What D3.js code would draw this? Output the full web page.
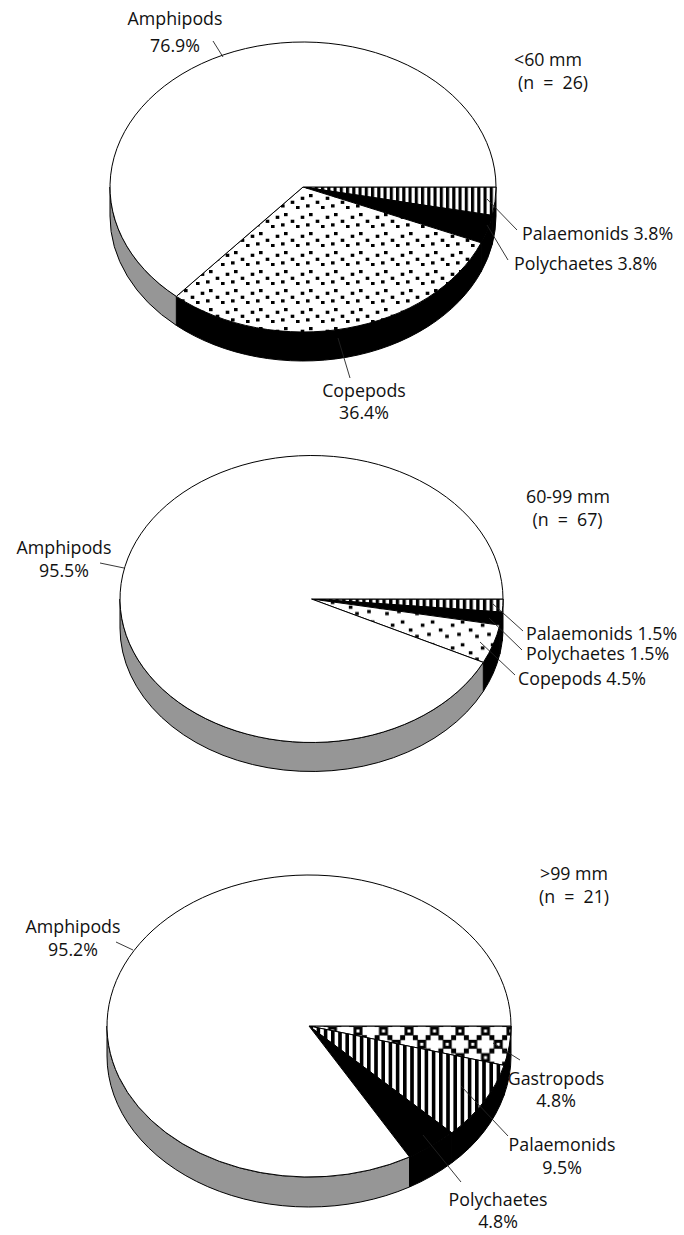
<!DOCTYPE html>
<html><head><meta charset="utf-8">
<script src="https://cdn.jsdelivr.net/npm/d3@7/dist/d3.min.js"></script>
<style>html,body{margin:0;padding:0;background:#fff}svg{display:block}text{font-family:"Open Sans",sans-serif;font-size:17.8px;fill:#111}</style>
</head><body><div id="c"></div>
<script>
// Data: labelled percentages (drawn slices are normalised from them, as in the source)
const categories1 = ["Palaemonids", "Polychaetes", "Copepods", "Amphipods"];
const values1 = [3.8, 3.8, 36.4, 76.9];
const categories2 = ["Palaemonids", "Polychaetes", "Copepods", "Amphipods"];
const values2 = [1.5, 1.5, 4.5, 95.5];
const categories3 = ["Gastropods", "Palaemonids", "Polychaetes", "Amphipods"];
const values3 = [4.8, 9.5, 4.8, 95.2];

// Layout
const panelGeometry = [
  {cx:303, cy:187, rx:193, ry:145, depth:29, stripe:6.25, dot:1},
  {cx:311.5, cy:599, rx:191.5, ry:143.5, depth:29, stripe:6.7, dot:1.2},
  {cx:309, cy:1026, rx:202, ry:151, depth:30, stripe:7.2, dot:1}
];
const panelLabels = [
  [["<60 mm",548,66,"middle"],["(n = 26)",553,89,"middle"],
   ["Amphipods",175,25,"middle"],["76.9%",175,52,"middle"],
   ["Palaemonids 3.8%",522,240,"start"],["Polychaetes 3.8%",514,270,"start"],
   ["Copepods",364,397,"middle"],["36.4%",364,419,"middle"]],
  [["60-99 mm",568,503,"middle"],["(n = 67)",567.5,525.5,"middle"],
   ["Amphipods",64,554,"middle"],["95.5%",64,577,"middle"],
   ["Palaemonids 1.5%",526,640,"start"],["Polychaetes 1.5%",526,660,"start"],["Copepods 4.5%",518,684.5,"start"]],
  [[">99 mm",574,880,"middle"],["(n = 21)",574,903,"middle"],
   ["Amphipods",73,933,"middle"],["95.2%",73,956,"middle"],
   ["Gastropods",556,1085,"middle"],["4.8%",556,1107,"middle"],
   ["Palaemonids",562,1151,"middle"],["9.5%",562,1174,"middle"],
   ["Polychaetes",498,1206,"middle"],["4.8%",498,1228,"middle"]]
];
const panelLeaders = [
  [[213,41,223,57],[487,199,517,230],[487,225,508,260],[338,338,350,378]],
  [[100,563,124,568],[493,604,523,631],[489,618,522,650],[480,642,515,675]],
  [[116,942,133,950],[493,1043,520,1060],[461,1086,508,1136],[423,1135,461,1182]]
];

const svg = d3.select("#c").append("svg").attr("width",684).attr("height",1235);
const defs = svg.append("defs");

panelGeometry.forEach((g,i)=>{
  const p = defs.append("pattern").attr("id","stripes"+i).attr("patternUnits","userSpaceOnUse")
    .attr("width",g.stripe).attr("height",10).attr("x",g.cx+g.rx);
  p.append("rect").attr("width",g.stripe).attr("height",10).attr("fill","#fff");
  p.append("rect").attr("width",g.stripe*0.5).attr("height",10).attr("fill","#000");
  const w=25*g.dot,h=19*g.dot;
  const d = defs.append("pattern").attr("id","dots"+i).attr("patternUnits","userSpaceOnUse").attr("width",w).attr("height",h);
  d.append("rect").attr("width",w).attr("height",h).attr("fill","#fff");
  [[9,4],[0.7,6.7],[15.7,10.7],[6,14.3],[21,16]].forEach(q=>d.append("rect")
    .attr("x",q[0]*g.dot).attr("y",q[1]*g.dot).attr("width",3.6).attr("height",3.2).attr("fill","#000"));
});
(function(){
  const w=25.5,h=26.6;
  const c = defs.append("pattern").attr("id","checks").attr("patternUnits","userSpaceOnUse")
    .attr("width",w).attr("height",h).attr("x",434.5).attr("y",1031);
  c.append("rect").attr("width",w).attr("height",h).attr("fill","#fff");
  [[0,0],[w,0],[0,h],[w,h],[w/2,h/2]].forEach(q=>{
    c.append("rect").attr("x",q[0]-4.5).attr("y",q[1]-4.5).attr("width",9).attr("height",9).attr("fill","#000");
    c.append("rect").attr("x",q[0]-1.5).attr("y",q[1]-1.5).attr("width",3).attr("height",3).attr("fill","#fff");
  });
  [[w/4,h/4],[3*w/4,h/4],[w/4,3*h/4],[3*w/4,3*h/4]].forEach(q=>c.append("rect")
    .attr("x",q[0]-2.5).attr("y",q[1]-2.5).attr("width",5).attr("height",5).attr("fill","#000"));
})();

const topFill = (name,i)=> name==="Amphipods" ? "#fff"
  : name==="Polychaetes" ? "#000"
  : name==="Copepods" ? `url(#dots${i})`
  : name==="Palaemonids" ? `url(#stripes${i})` : "url(#checks)";
const sideFill = name => name==="Amphipods" ? "#969696" : "#000";

const pie = d3.pie().sort(null).startAngle(Math.PI/2).endAngle(Math.PI/2+2*Math.PI);
[[categories1,values1],[categories2,values2],[categories3,values3]].forEach(([cats,vals],i)=>{
  const g = panelGeometry[i];
  const G = svg.append("g");
  const arcs = pie(vals).map((a,k)=>({name:cats[k],a0:a.startAngle-Math.PI/2,a1:a.endAngle-Math.PI/2}));
  const px = t=>g.cx+g.rx*Math.cos(t), py = t=>g.cy+g.ry*Math.sin(t);
  G.selectAll("path.side").data(arcs.filter(d=>d.a0<Math.PI)).join("path").attr("class","side")
    .attr("d",d=>{
      const s=d.a0,e=Math.min(d.a1,Math.PI);
      return `M${px(s)},${py(s)}A${g.rx},${g.ry} 0 0 1 ${px(e)},${py(e)}L${px(e)},${py(e)+g.depth}A${g.rx},${g.ry} 0 0 0 ${px(s)},${py(s)+g.depth}Z`;
    })
    .attr("fill",d=>sideFill(d.name)).attr("stroke","#000").attr("stroke-width",1);
  G.selectAll("path.top").data(arcs).join("path").attr("class","top")
    .attr("d",d=>`M${g.cx},${g.cy}L${px(d.a0)},${py(d.a0)}A${g.rx},${g.ry} 0 ${d.a1-d.a0>Math.PI?1:0} 1 ${px(d.a1)},${py(d.a1)}Z`)
    .attr("fill",d=>topFill(d.name,i)).attr("stroke","#000").attr("stroke-width",1).attr("stroke-linejoin","round");
  G.selectAll("line").data(panelLeaders[i]).join("line")
    .attr("x1",d=>d[0]).attr("y1",d=>d[1]).attr("x2",d=>d[2]).attr("y2",d=>d[3])
    .attr("stroke","#222").attr("stroke-width",0.9);
  G.selectAll("text").data(panelLabels[i]).join("text")
    .attr("x",d=>d[1]).attr("y",d=>d[2]).attr("text-anchor",d=>d[3])
    .attr("word-spacing",d=>d[0].startsWith("(n")?4.5:0).text(d=>d[0]);
});
</script></body></html>
